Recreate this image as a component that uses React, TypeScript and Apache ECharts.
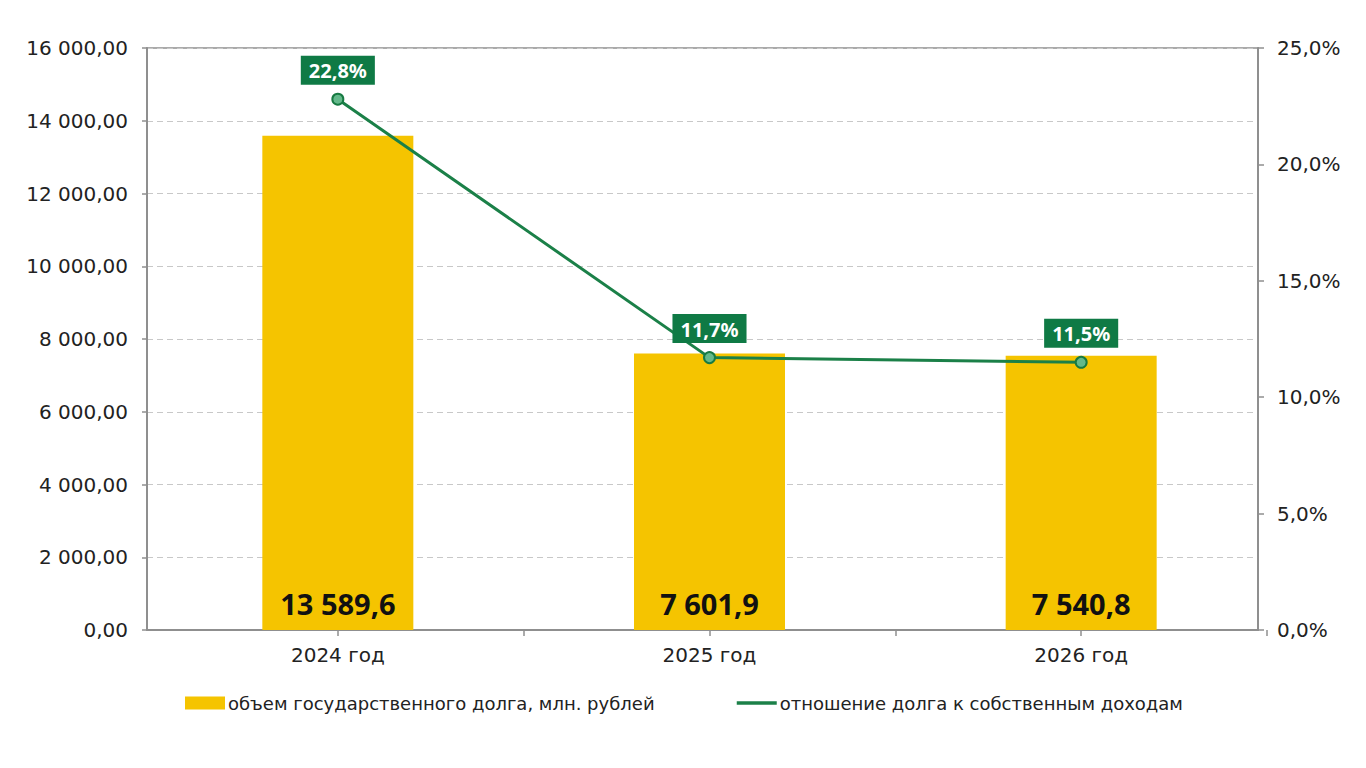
import React, { useEffect, useRef } from "react";
import * as echarts from "echarts";

const categories = ["2024 год", "2025 год", "2026 год"];
const debtValues = [13589.6, 7601.9, 7540.8];
const ratioValues = [22.8, 11.7, 11.5];
const debtName = "объем государственного долга, млн. рублей";
const ratioName = "отношение долга к собственным доходам";

const FONT = "'DejaVu Sans', 'Noto Sans', sans-serif";
const BOLD_FONT = "'Noto Sans', 'DejaVu Sans', sans-serif";

function fmtNum(v: number, digits: number): string {
  const s = Math.abs(v).toFixed(digits);
  const [intPart, dec] = s.split(".");
  const grouped = intPart.replace(/\B(?=(\d{3})+(?!\d))/g, " ");
  return (v < 0 ? "-" : "") + grouped + (dec !== undefined ? "," + dec : "");
}

export default function App() {
  const ref = useRef<HTMLDivElement>(null);
  useEffect(() => {
    if (!ref.current) return;
    const chart = echarts.init(ref.current, null, { renderer: "svg" });
    const axisColor = "#8f8f8f";
    const tickStyle = { color: axisColor, width: 1.5 };
    chart.setOption({
      animation: false,
      backgroundColor: "#ffffff",
      textStyle: { fontFamily: FONT },
      grid: [
        {
          left: 147,
          right: 108,
          top: 48,
          bottom: 138,
          show: true,
          borderColor: axisColor,
          borderWidth: 1.5,
        },
        { left: 152, right: 99, top: 48, bottom: 138 },
      ],
      legend: [
        {
          data: [debtName],
          left: 180,
          top: 689,
          itemWidth: 40,
          itemHeight: 13,
          itemGap: 4,
          icon: "rect",
          textStyle: { fontSize: 18, color: "#222", fontFamily: FONT, padding: [0, 0, 0, -2] },
        },
        {
          data: [ratioName],
          left: 730,
          top: 689,
          itemWidth: 40,
          itemHeight: 13,
          itemStyle: { color: "#1b8048", borderWidth: 0, opacity: 0 },
          lineStyle: { width: 3.5 },
          textStyle: { fontSize: 18, color: "#222", fontFamily: FONT, padding: [0, 0, 0, -2] },
        },
      ],
      xAxis: [
        {
          gridIndex: 0,
          type: "category",
          data: categories,
          axisLine: { show: true, lineStyle: { color: axisColor, width: 2 } },
          axisTick: { show: false },
          axisLabel: { show: false },
        },
        {
          gridIndex: 1,
          type: "category",
          data: categories,
          boundaryGap: true,
          axisLine: { show: false },
          axisTick: { show: true, alignWithLabel: true, length: 6, lineStyle: tickStyle },
          axisLabel: { fontSize: 20, color: "#222", margin: 15, fontFamily: FONT },
        },
        {
          gridIndex: 1,
          type: "category",
          data: categories,
          position: "bottom",
          boundaryGap: true,
          axisLine: { show: false },
          axisTick: {
            show: true,
            alignWithLabel: false,
            length: 6,
            lineStyle: tickStyle,
            interval: (index: number) => index === 1 || index === 2,
          },
          axisLabel: { show: false },
          splitLine: { show: false },
        },
      ],
      yAxis: [
        {
          gridIndex: 0,
          type: "value",
          min: 0,
          max: 16000,
          interval: 2000,
          axisLine: { show: true, lineStyle: { color: axisColor, width: 2 } },
          axisTick: { show: true, length: 5, lineStyle: tickStyle },
          axisLabel: {
            fontSize: 20,
            color: "#222",
            margin: 19,
            fontFamily: FONT,
            formatter: (v: number) => fmtNum(v, 2),
          },
          splitLine: { show: true, lineStyle: { color: "#c8c8c8", type: [6, 4], width: 1.2 } },
        },
        {
          gridIndex: 0,
          type: "value",
          min: 0,
          max: 25,
          interval: 5,
          position: "right",
          axisLine: { show: true, lineStyle: { color: axisColor, width: 2 } },
          axisTick: { show: true, length: 6, lineStyle: tickStyle },
          axisLabel: {
            fontSize: 20,
            color: "#222",
            margin: 19,
            fontFamily: FONT,
            formatter: (v: number) => fmtNum(v, 1) + "%",
          },
          splitLine: { show: false },
        },
        {
          gridIndex: 1,
          type: "value",
          min: 0,
          max: 16000,
          interval: 2000,
          show: false,
          splitLine: { show: false },
        },
        {
          gridIndex: 1,
          type: "value",
          min: 0,
          max: 25,
          interval: 5,
          position: "right",
          show: false,
          splitLine: { show: false },
        },
      ],
      series: [
        {
          name: debtName,
          type: "bar",
          data: debtValues,
          xAxisIndex: 1,
          yAxisIndex: 2,
          barWidth: 151,
          itemStyle: { color: "#f5c400" },
          label: {
            show: true,
            position: "insideBottom",
            distance: 12,
            fontSize: 29,
            fontWeight: "bold",
            color: "#111",
            fontFamily: BOLD_FONT,
            formatter: (p: any) => fmtNum(p.value, 1),
          },
          z: 2,
        },
        {
          name: ratioName,
          type: "line",
          data: ratioValues,
          xAxisIndex: 1,
          yAxisIndex: 3,
          symbol: "circle",
          symbolSize: 11,
          lineStyle: { color: "#1b8048", width: 3 },
          itemStyle: { color: "#64b98b", borderColor: "#177a42", borderWidth: 2 },
          label: {
            show: true,
            position: "top",
            distance: 8,
            fontSize: 20,
            fontWeight: "bold",
            color: "#ffffff",
            backgroundColor: "#0f7a45",
            padding: [5, 8, 4, 8],
            fontFamily: BOLD_FONT,
            formatter: (p: any) => fmtNum(p.value, 1) + "%",
          },
          z: 5,
        },
      ],
    });
    return () => chart.dispose();
  }, []);
  return (
    <div
      ref={ref}
      style={{ position: "fixed", left: 0, top: 0, width: 1366, height: 768, background: "#fff" }}
    />
  );
}
